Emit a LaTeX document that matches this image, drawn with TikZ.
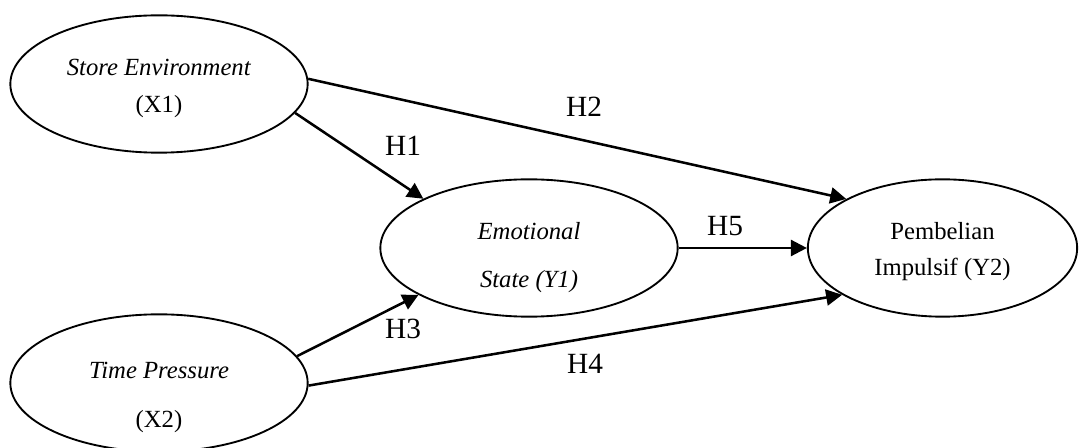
\documentclass[tikz,border=0pt]{standalone}
\usepackage{fontspec}
\setmainfont{Liberation Serif}
\usetikzlibrary{arrows.meta}
\usetikzlibrary{shapes.geometric}
\tikzset{
	latent/.style={ellipse, draw, line width=1.4pt, inner sep=0pt, minimum width=223pt, minimum height=103pt},
	vartext/.style={align=center, inner sep=0pt, font=\fontsize{18.5}{22}\selectfont},
	hyp/.style={inner sep=0pt, font=\fontsize{22}{26}\selectfont},
	link/.style={line width=1.9pt, -{Triangle[length=12pt,width=12pt]}}
}
\begin{document}
\begin{tikzpicture}[x=0.75pt,y=-0.75pt]
	\useasboundingbox (0,0) rectangle (1080,448);

	\node[latent] (X1) at (159,84) {};
	\node[latent] (Y1) at (529,248) {};
	\node[latent] (X2) at (159,383) {};
	\node[latent,minimum width=202pt] (Y2) at (942.5,248) {};

	\node[vartext] (X1txt) at ([yshift=-3pt]X1.center) {\textit{Store Environment}\\[5.75pt](X1)};
	\node[vartext] (Y1txt) at ([yshift=-7pt]Y1.center) {\textit{Emotional}\\[14pt]\textit{State (Y1)}};
	\node[vartext] (X2txt) at ([yshift=-10.5pt]X2.center) {\textit{Time Pressure}\\[14.75pt](X2)};
	\node[vartext] (Y2txt) at ([yshift=-2.5pt]Y2.center) {Pembelian\\[5pt]Impulsif (Y2)};

	\draw[link] (X1.-12) -- (Y1.155);
	\draw[link] (X1.2) -- (Y2.153);
	\draw[link] (Y1.east) -- (Y2.west);
	\draw[link] (X2.11) -- (Y1.-157);
	\draw[link] (X2.-1) -- (Y2.-155);

	\node[hyp] (H1) at (403,146) {H1};
	\node[hyp] (H2) at (584,107) {H2};
	\node[hyp] (H3) at (403,329) {H3};
	\node[hyp] (H4) at (585,364) {H4};
	\node[hyp] (H5) at (725,226) {H5};
\end{tikzpicture}
\end{document}
